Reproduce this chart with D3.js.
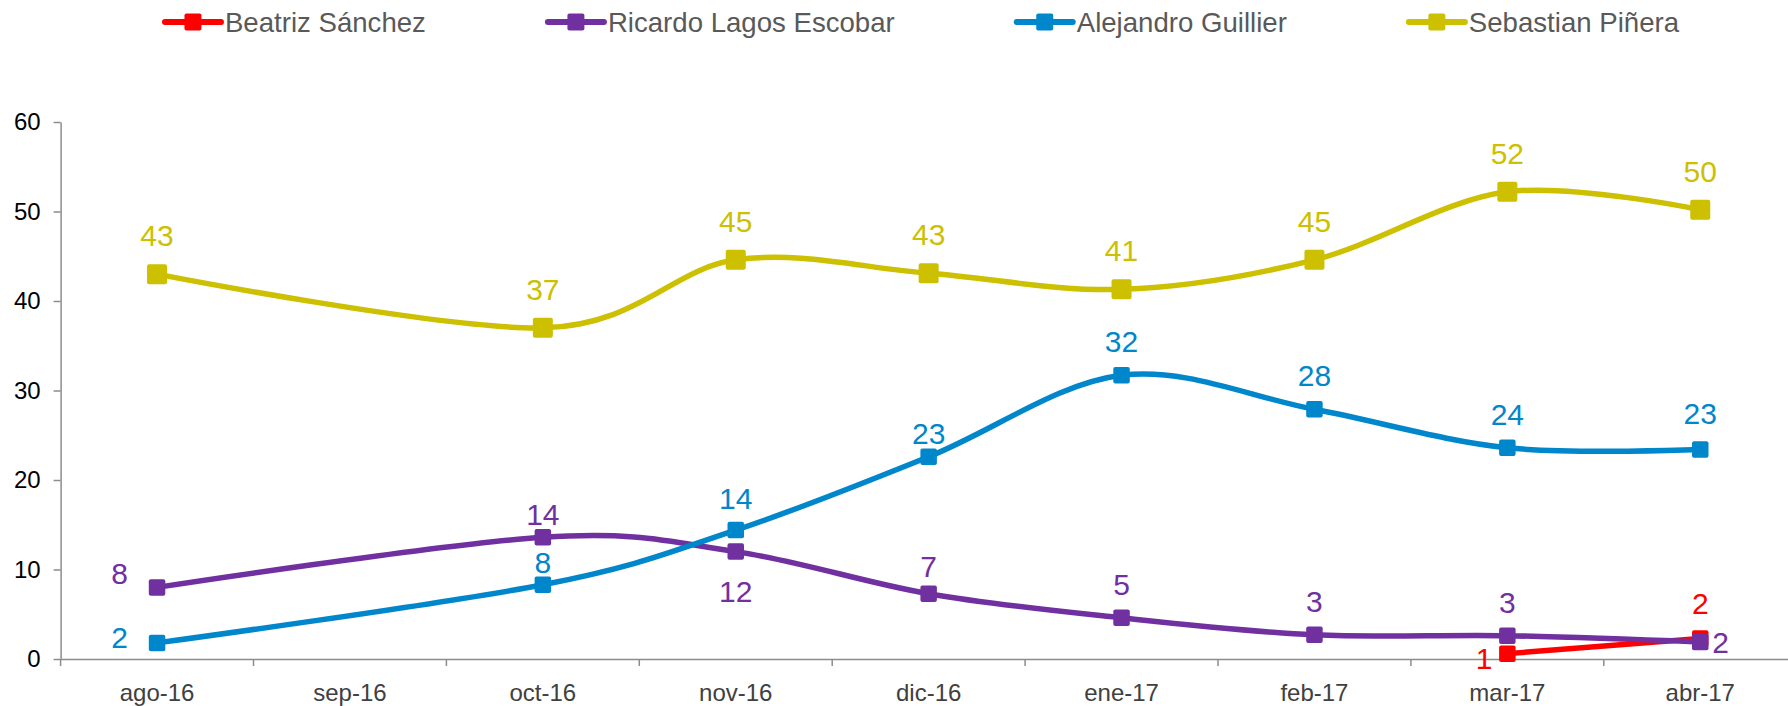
<!DOCTYPE html>
<html>
<head>
<meta charset="utf-8">
<script src="https://cdn.jsdelivr.net/npm/d3@7"></script>
<style>
  body { margin: 0; background: #fff; }
  svg text { font-family: "Liberation Sans", Arial, sans-serif; }
</style>
</head>
<body>
<div id="chart"></div>
<script>
// months on the x axis (sep-16 has no poll)
const months = ["ago-16", "sep-16", "oct-16", "nov-16", "dic-16", "ene-17", "feb-17", "mar-17", "abr-17"];
const yTicks = [0, 10, 20, 30, 40, 50, 60];

// one array per candidate, null where there is no value
const sanchez = [null, null, null, null, null, null, null, 0.6, 2.3];
const lagos = [8.0, null, 13.6, 12.0, 7.3, 4.6, 2.7, 2.6, 1.9];
const guillier = [1.8, null, 8.3, 14.4, 22.6, 31.7, 27.9, 23.6, 23.4];
const pinera = [43.0, null, 37.0, 44.6, 43.1, 41.3, 44.6, 52.2, 50.2];

const names = ["Beatriz Sánchez", "Ricardo Lagos Escobar", "Alejandro Guillier", "Sebastian Piñera"];
const colors = ["#ff0000", "#7030a0", "#0086cb", "#ccc000"];

// label placement per point: [side, dx, dy] from the marker centre (layout only)
const sanchezLbl = [null, null, null, null, null, null, null, ["end", -15, 15], ["middle", 0, -24]];
const lagosLbl = [["end", -29, -3], null, ["middle", 0, -12], ["middle", 0, 50], ["middle", 0, -17],
  ["middle", 0, -23], ["middle", 0, -23], ["middle", 0, -23], ["start", 12, 11]];
const guillierLbl = [["end", -29, 5], null, ["middle", 0, -12], ["middle", 0, -21], ["middle", 0, -13],
  ["middle", 0, -23], ["middle", 0, -23], ["middle", 0, -23], ["middle", 0, -26]];
const pineraLbl = [["middle", 0, -28], null, ["middle", 0, -28], ["middle", 0, -28], ["middle", 0, -28],
  ["middle", 0, -28], ["middle", 0, -28], ["middle", 0, -28], ["middle", 0, -28]];

const W = 1788, H = 706;
const svg = d3.select("#chart").append("svg")
  .attr("width", W)
  .attr("height", H);

const x = d3.scaleBand()
  .domain(months)
  .range([60.6, 60.6 + 9 * 192.9]);

const y = d3.scaleLinear()
  .domain([0, 60])
  .range([659, 122]);

const axisColor = "#8c8c8c";

// y axis
const yAxis = svg.append("g")
  .attr("transform", "translate(" + x.range()[0] + ",0)")
  .call(d3.axisLeft(y).tickValues(yTicks).tickSize(7).tickPadding(13).tickSizeOuter(0));
yAxis.select(".domain").attr("stroke", axisColor).attr("stroke-width", 1.5);
yAxis.selectAll(".tick line").attr("stroke", axisColor).attr("stroke-width", 1.5);
yAxis.selectAll("text").attr("font-size", 24).attr("fill", "#000")
  .style("font-family", "'Liberation Sans', Arial, sans-serif");

// x axis: labels centred, tick marks on the category boundaries
const xAxis = svg.append("g")
  .attr("transform", "translate(0," + y(0) + ")")
  .call(d3.axisBottom(x).tickSize(0).tickPadding(25).tickSizeOuter(0));
xAxis.select(".domain").attr("stroke", axisColor).attr("stroke-width", 1.5);
xAxis.selectAll("text").attr("font-size", 24).attr("fill", "#404040")
  .style("font-family", "'Liberation Sans', Arial, sans-serif");
xAxis.selectAll(".boundary")
  .data(months.map(m => x(m)).concat([x.range()[1]]))
  .enter().append("line")
  .attr("x1", d => d).attr("x2", d => d)
  .attr("y1", 0).attr("y2", 7)
  .attr("stroke", axisColor).attr("stroke-width", 1.5);

const series = [
  {name: names[0], values: sanchez, lbl: sanchezLbl, color: colors[0], size: 16.5},
  {name: names[1], values: lagos, lbl: lagosLbl, color: colors[1], size: 16.5},
  {name: names[2], values: guillier, lbl: guillierLbl, color: colors[2], size: 16.5},
  {name: names[3], values: pinera, lbl: pineraLbl, color: colors[3], size: 20}
];

const line = d3.line()
  .x(d => x(d.month) + x.bandwidth() / 2)
  .y(d => y(d.value))
  .curve(d3.curveCatmullRom.alpha(0));

const fmt = d3.format(".0f");

series.forEach(s => {
  // gaps are bridged, like "connect data points with line"
  const pts = months.map((m, i) => ({month: m, value: s.values[i], lbl: s.lbl[i]}))
    .filter(d => d.value != null);
  const g = svg.append("g");

  g.append("path")
    .datum(pts)
    .attr("fill", "none")
    .attr("stroke", s.color)
    .attr("stroke-width", 5.5)
    .attr("stroke-linejoin", "round")
    .attr("d", line);

  g.selectAll("rect")
    .data(pts)
    .enter().append("rect")
    .attr("x", d => x(d.month) + x.bandwidth() / 2 - s.size / 2)
    .attr("y", d => y(d.value) - s.size / 2)
    .attr("width", s.size)
    .attr("height", s.size)
    .attr("rx", 2)
    .attr("fill", s.color);

  s.pts = pts;
});

// data labels on top of everything
series.forEach(s => {
  svg.append("g").selectAll("text")
    .data(s.pts)
    .enter().append("text")
    .attr("font-size", 30)
    .attr("fill", s.color)
    .attr("text-anchor", d => d.lbl[0])
    .attr("x", d => x(d.month) + x.bandwidth() / 2 + d.lbl[1])
    .attr("y", d => y(d.value) + d.lbl[2])
    .text(d => fmt(d.value));
});

// legend across the top, centred
const legend = svg.append("g").attr("transform", "translate(0,22)");
const items = legend.selectAll("g")
  .data(series)
  .enter().append("g");
items.append("line")
  .attr("x1", 0).attr("x2", 56)
  .attr("y1", 0).attr("y2", 0)
  .attr("stroke", d => d.color)
  .attr("stroke-width", 6)
  .attr("stroke-linecap", "round");
items.append("rect")
  .attr("x", 28 - 8.5).attr("y", -8.5)
  .attr("width", 17).attr("height", 17)
  .attr("rx", 2)
  .attr("fill", d => d.color);
items.append("text")
  .attr("x", 60)
  .attr("y", 10)
  .attr("font-size", 27.6)
  .attr("fill", "#595959")
  .text(d => d.name);

let widths = [];
items.each(function() {
  widths.push(60 + d3.select(this).select("text").node().getComputedTextLength());
});
const gap = 122;
const total = d3.sum(widths) + gap * (widths.length - 1);
let pos = 922 - total / 2;
items.each(function(d, i) {
  d3.select(this).attr("transform", "translate(" + pos + ",0)");
  pos += widths[i] + gap;
});
</script>
</body>
</html>
